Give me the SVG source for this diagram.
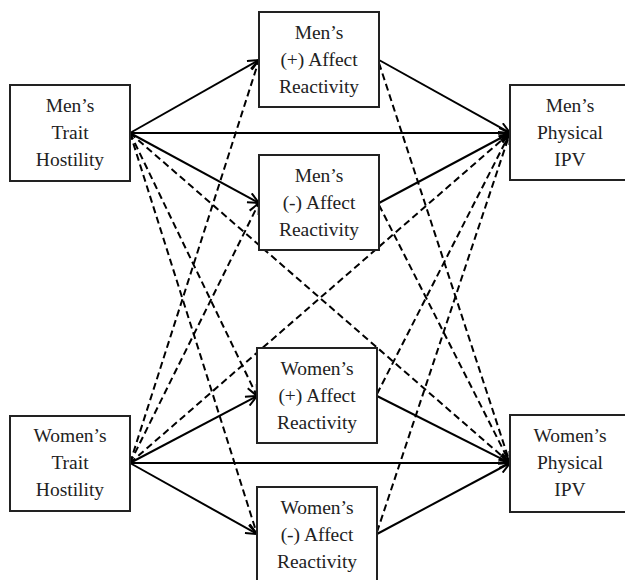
<svg xmlns="http://www.w3.org/2000/svg" width="625" height="580" viewBox="0 0 625 580">
<defs>
<marker id="arr" viewBox="0 0 12 12" refX="11.5" refY="6" markerWidth="12" markerHeight="12" markerUnits="userSpaceOnUse" orient="auto">
<path d="M0.5,1 L11.5,6 L0.5,11" fill="none" stroke="#000" stroke-width="2"/>
</marker>
<style>
.box{fill:#fff;stroke:#222;stroke-width:2}
.t{font-family:'Liberation Serif', 'DejaVu Serif', serif;font-size:19.5px;fill:#222;text-anchor:middle}
.s{stroke:#000;stroke-width:2;fill:none;marker-end:url(#arr)}
.d{stroke:#000;stroke-width:2;fill:none;stroke-dasharray:7,4;marker-end:url(#arr)}
</style>
</defs>
<rect width="625" height="580" fill="#fff"/>
<g id="connectors">
<line class="d" x1="130" y1="133" x2="257" y2="396"/>
<line class="d" x1="130" y1="133" x2="257" y2="534"/>
<line class="d" x1="130" y1="133" x2="510" y2="463"/>
<line class="d" x1="130" y1="463" x2="259" y2="60"/>
<line class="d" x1="130" y1="463" x2="259" y2="203"/>
<line class="d" x1="130" y1="463" x2="510" y2="133"/>
<line class="d" x1="379" y1="63" x2="510" y2="463"/>
<line class="d" x1="379" y1="205" x2="510" y2="463"/>
<line class="d" x1="377" y1="394" x2="510" y2="133"/>
<line class="d" x1="377" y1="532" x2="510" y2="133"/>
<line class="s" x1="130" y1="133" x2="259" y2="60"/>
<line class="s" x1="130" y1="133" x2="510" y2="133"/>
<line class="s" x1="130" y1="133" x2="259" y2="203"/>
<line class="s" x1="379" y1="60" x2="510" y2="133"/>
<line class="s" x1="379" y1="203" x2="510" y2="133"/>
<line class="s" x1="130" y1="463" x2="257" y2="396"/>
<line class="s" x1="130" y1="463" x2="510" y2="463"/>
<line class="s" x1="130" y1="463" x2="257" y2="534"/>
<line class="s" x1="377" y1="396" x2="510" y2="463"/>
<line class="s" x1="377" y1="534" x2="510" y2="463"/>
</g>
<g id="men-trait">
<rect class="box" x="10" y="85" width="120" height="96"/>
<text class="t" x="70" y="112">Men’s</text>
<text class="t" x="70" y="139">Trait</text>
<text class="t" x="70" y="166">Hostility</text>
</g>
<g id="women-trait">
<rect class="box" x="10" y="416" width="120" height="95"/>
<text class="t" x="70" y="442">Women’s</text>
<text class="t" x="70" y="469">Trait</text>
<text class="t" x="70" y="496">Hostility</text>
</g>
<g id="men-pos">
<rect class="box" x="259" y="12" width="120" height="95"/>
<text class="t" x="319" y="39">Men’s</text>
<text class="t" x="319" y="66">(+) Affect</text>
<text class="t" x="319" y="93">Reactivity</text>
</g>
<g id="men-neg">
<rect class="box" x="259" y="155" width="120" height="95"/>
<text class="t" x="319" y="182">Men’s</text>
<text class="t" x="319" y="209">(-) Affect</text>
<text class="t" x="319" y="236">Reactivity</text>
</g>
<g id="women-pos">
<rect class="box" x="257" y="348" width="120" height="95"/>
<text class="t" x="317" y="375">Women’s</text>
<text class="t" x="317" y="402">(+) Affect</text>
<text class="t" x="317" y="429">Reactivity</text>
</g>
<g id="women-neg">
<rect class="box" x="257" y="487" width="120" height="100"/>
<text class="t" x="317" y="514">Women’s</text>
<text class="t" x="317" y="541">(-) Affect</text>
<text class="t" x="317" y="568">Reactivity</text>
</g>
<g id="men-ipv">
<rect class="box" x="510" y="85" width="122" height="95"/>
<text class="t" x="570" y="112">Men’s</text>
<text class="t" x="570" y="139">Physical</text>
<text class="t" x="570" y="166">IPV</text>
</g>
<g id="women-ipv">
<rect class="box" x="510" y="415" width="122" height="97"/>
<text class="t" x="570" y="442">Women’s</text>
<text class="t" x="570" y="469">Physical</text>
<text class="t" x="570" y="496">IPV</text>
</g>
</svg>
